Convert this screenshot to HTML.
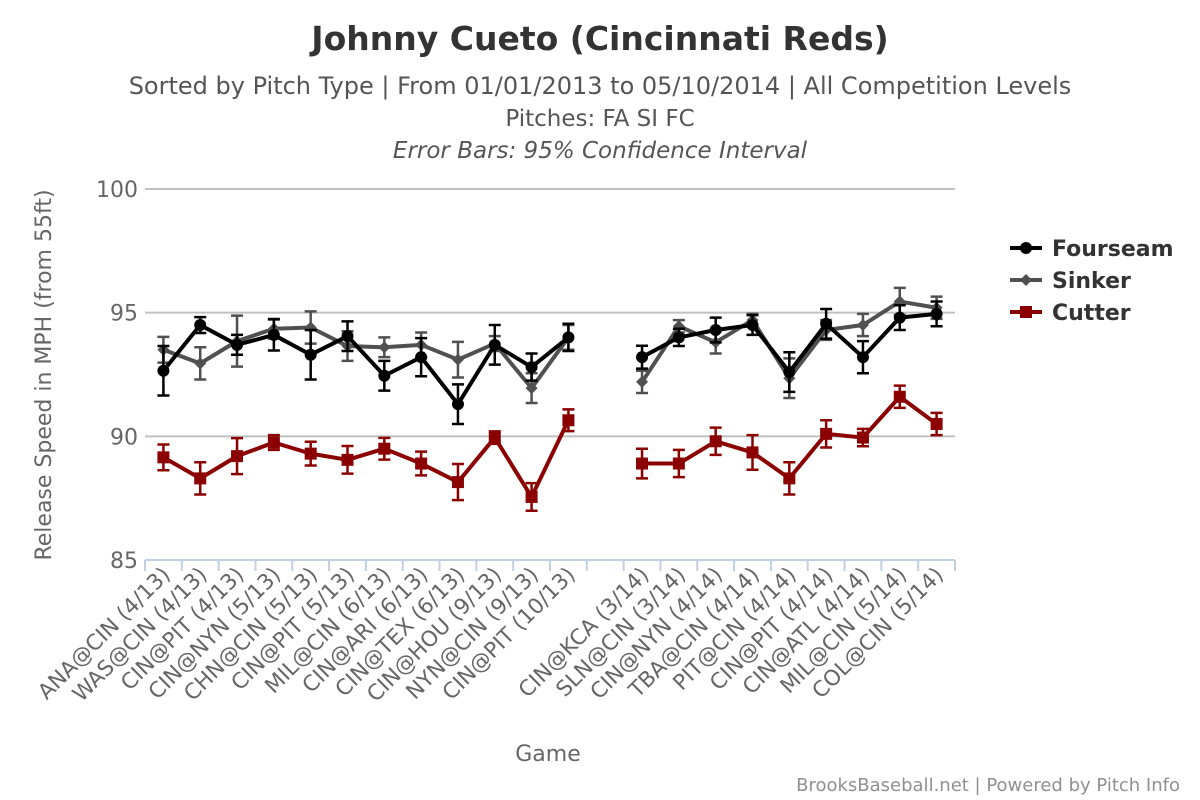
<!DOCTYPE html>
<html><head><meta charset="utf-8"><style>
body{margin:0;background:#fff;}
svg{display:block;font-family:"DejaVu Sans","Liberation Sans",sans-serif;}
</style></head><body>
<svg id="chart" width="1200" height="800">
<text x="600" y="50" text-anchor="middle" font-size="33" font-weight="bold" fill="#333">Johnny Cueto (Cincinnati Reds)</text>
<text x="600" y="94" text-anchor="middle" font-size="24" fill="#555">Sorted by Pitch Type | From 01/01/2013 to 05/10/2014 | All Competition Levels</text>
<text x="600" y="126" text-anchor="middle" font-size="23" fill="#555">Pitches: FA SI FC</text>
<text x="600" y="158" text-anchor="middle" font-size="23" font-style="italic" fill="#555">Error Bars: 95% Confidence Interval</text>
<g id="grid"></g><g id="xaxis"></g><g id="series"></g>
<text transform="translate(51,375) rotate(-90)" text-anchor="middle" font-size="22" fill="#666">Release Speed in MPH (from 55ft)</text>
<text x="548" y="761" text-anchor="middle" font-size="22" fill="#666">Game</text>
<text x="1180" y="791" text-anchor="end" font-size="18" fill="#909090">BrooksBaseball.net | Powered by Pitch Info</text>
<g id="legend"></g>
</svg>
<script>
const categories=["ANA@CIN (4/13)","WAS@CIN (4/13)","CIN@PIT (4/13)","CIN@NYN (5/13)","CHN@CIN (5/13)","CIN@PIT (5/13)","MIL@CIN (6/13)","CIN@ARI (6/13)","CIN@TEX (6/13)","CIN@HOU (9/13)","NYN@CIN (9/13)","CIN@PIT (10/13)","","CIN@KCA (3/14)","SLN@CIN (3/14)","CIN@NYN (4/14)","TBA@CIN (4/14)","PIT@CIN (4/14)","CIN@PIT (4/14)","CIN@ATL (4/14)","MIL@CIN (5/14)","COL@CIN (5/14)"];
const fourseam=[92.65,94.5,93.7,94.1,93.3,94.05,92.45,93.2,91.3,93.7,92.8,94.0,null,93.2,94.0,94.3,94.5,92.6,94.55,93.2,94.8,94.95];
const fourseamErr=[1.0,0.32,0.4,0.63,1.0,0.6,0.6,0.77,0.8,0.8,0.55,0.55,null,0.46,0.35,0.5,0.4,0.8,0.6,0.65,0.5,0.5];
const sinker=[93.5,92.95,93.85,94.35,94.4,93.65,93.6,93.7,93.1,93.75,91.95,94.0,null,92.2,94.45,93.8,94.7,92.35,94.3,94.5,95.45,95.2];
const sinkerErr=[0.52,0.65,1.03,0.4,0.65,0.6,0.4,0.5,0.72,0.3,0.6,0.5,null,0.45,0.25,0.45,0.25,0.8,0.4,0.45,0.55,0.45];
const cutter=[89.15,88.3,89.2,89.75,89.3,89.05,89.5,88.9,88.15,89.95,87.55,90.65,null,88.9,88.9,89.8,89.35,88.3,90.1,89.95,91.6,90.5];
const cutterErr=[0.52,0.65,0.73,0.3,0.48,0.56,0.44,0.48,0.73,0.25,0.56,0.44,null,0.6,0.55,0.55,0.7,0.65,0.55,0.35,0.45,0.45];
const yTicks=[85,90,95,100];
const seriesNames=["Fourseam","Sinker","Cutter"];

const NS="http://www.w3.org/2000/svg";
const L=145,R=955,T=189,B=560,yMin=85,yMax=100;
const bw=(R-L)/categories.length;
const xS=i=>L+bw*(i+0.5);
const yS=v=>B-(v-yMin)/(yMax-yMin)*(B-T);
function mk(tag,attrs,parent){const e=document.createElementNS(NS,tag);for(const k in attrs)e.setAttribute(k,attrs[k]);parent.appendChild(e);return e;}
const grid=document.getElementById('grid'),xa=document.getElementById('xaxis'),sg=document.getElementById('series'),lg=document.getElementById('legend');
yTicks.forEach(v=>{
  if(v>yMin){const l=mk('line',{x1:L,x2:R,y1:yS(v),y2:yS(v),stroke:'#C0C0C0','stroke-width':2},grid);
  
  }
  const t=mk('text',{x:L-7,y:yS(v)+8,'text-anchor':'end','font-size':22,fill:'#666'},grid);t.textContent=v;
  
  
});
const ax=mk('line',{x1:L,x2:R,y1:B,y2:B,stroke:'#C0D0E0','stroke-width':2},xa);


for(let k=0;k<=categories.length;k++){const x=L+bw*k;const tk=mk('line',{x1:x,x2:x,y1:B,y2:B+11,stroke:'#C0D0E0','stroke-width':2},xa);
  
  }
categories.forEach((c,i)=>{if(!c)return;const x=xS(i)+8,y=B+16;
  const t=mk('text',{x:x,y:y,'text-anchor':'end','font-size':21.5,fill:'#666',transform:`rotate(-45 ${x} ${y})`},xa);t.textContent=c;
  
  });
const styles=[{c:'#000000',m:'circle'},{c:'#505050',m:'diamond'},{c:'#8B0000',m:'square'}];
function marker(g,m,x,y,c,s){
  if(m==='circle')return mk('circle',{cx:x,cy:y,r:6*s,fill:c},g);
  if(m==='diamond')return mk('path',{d:`M${x} ${y-6*s}L${x+6*s} ${y}L${x} ${y+6*s}L${x-6*s} ${y}Z`,fill:c},g);
  return mk('rect',{x:x-6*s,y:y-6*s,width:12*s,height:12*s,fill:c},g);
}
const data=[[fourseam,fourseamErr],[sinker,sinkerErr],[cutter,cutterErr]];
[2,1,0].forEach(si=>{
  const [vals,errs]=data[si],st=styles[si];
  const g=mk('g',{},sg);
  
  
  let segs=[],cur=[];
  vals.forEach((v,i)=>{if(v==null){if(cur.length)segs.push(cur);cur=[];}else cur.push(xS(i)+','+yS(v));});
  if(cur.length)segs.push(cur);
  segs.forEach(s=>{const p=mk('polyline',{points:s.join(' '),fill:'none',stroke:st.c,'stroke-width':4,'stroke-linejoin':'round'},g);
    
    });
  vals.forEach((v,i)=>{if(v==null)return;const x=xS(i),y1=yS(v+errs[i]),y2=yS(v-errs[i]);
    const eb=mk('path',{d:`M${x} ${y1}V${y2}M${x-6} ${y1}H${x+6}M${x-6} ${y2}H${x+6}`,stroke:st.c,'stroke-width':2.5,fill:'none'},g);
    
    
    const m=marker(g,st.m,x,yS(v),st.c,1);
    
    });
});
seriesNames.forEach((n,si)=>{const y=248+si*32,st=styles[si];
  const g=mk('g',{},lg);
  
  
  mk('line',{x1:1010,x2:1042,y1:y,y2:y,stroke:st.c,'stroke-width':4},g);
  marker(g,st.m,1026,y,st.c,1);
  const t=mk('text',{x:1052,y:y+8,'font-size':22,'font-weight':'bold',fill:'#333'},g);t.textContent=n;});
</script>
</body></html>
